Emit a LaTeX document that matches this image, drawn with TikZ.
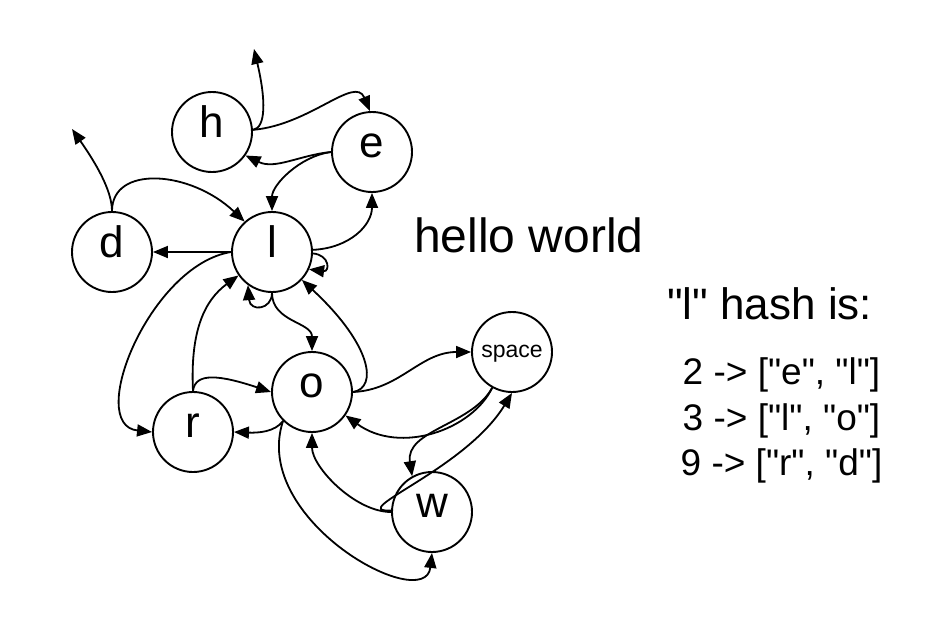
\documentclass[tikz,border=0pt]{standalone}
\usepackage{fontspec}
\setmainfont{Liberation Sans}[Ligatures=TeXOff]
\usetikzlibrary{arrows.meta}
\begin{document}
\begin{tikzpicture}[x=1pt,y=-1pt,
  state/.style={draw, circle, line width=1.9pt, minimum size=80pt, inner sep=0pt,
    font=\fontsize{44}{48}\selectfont, text height=30pt, text depth=20pt},
  edge/.style={line width=1.8pt, -{Triangle[length=15pt,width=12pt]}},
  label/.style={inner sep=0pt}]
\useasboundingbox[fill=white] (0,0) rectangle (935,621);

\node[state] (h) at (212,132) {h};
\node[state] (e) at (372,152) {e};
\node[state] (l) at (272,252) {l};
\node[state] (d) at (112,252) {d};
\node[state] (r) at (193,432) {r};
\node[state] (o) at (312,392) {o};
\node[state, font=\fontsize{23}{26}\selectfont] (space) at (512,352) {space};
\node[state] (w) at (432,512) {w};

\coordinate (hup) at (254,49);
\coordinate (dup) at (72,129);

\draw[edge] (h.3) .. controls (266,128) and (266,100) .. (hup);
\draw[edge] (h.3) .. controls (310,125) and (355,75) .. (e.93);
\draw[edge] (e.180) .. controls (300,155) and (275,170) .. (h.-35);
\draw[edge] (e.180) .. controls (300,156) and (272,185) .. (l.90);
\draw[edge] (l.3) .. controls (350,248) and (372,225) .. (e.-90);
\draw[edge] (l.-2) .. controls (330,255) and (330,272) .. (l.-25);
\draw[edge] (l.-90) .. controls (272,310) and (250,312) .. (l.-126);
\draw[edge] (d.90) .. controls (112,190) and (95,162) .. (dup);
\draw[edge] (d.90) .. controls (112,165) and (190,170) .. (l.132);
\draw[edge] (l.180) -- (d.0);
\draw[edge] (l.180) .. controls (150,265) and (85,425) .. (r.180);
\draw[edge] (r.90) .. controls (190,330) and (205,300) .. (l.-145);
\draw[edge] (r.90) .. controls (195,372) and (220,375) .. (o.180);
\draw[edge] (o.-135) .. controls (275,432) and (258,433) .. (r.0);
\draw[edge] (l.-90) .. controls (272,322) and (312,322) .. (o.90);
\draw[edge] (o.0) .. controls (378,388) and (372,345) .. (l.-43);
\draw[edge] (o.0) .. controls (400,390) and (420,352) .. (space.180);
\draw[edge] (space.-119) .. controls (472,430) and (400,455) .. (o.-35);
\draw[edge] (space.-119) .. controls (472,425) and (405,430) .. (w.119);
\draw[edge] (w.178) .. controls (345,512) and (465,470) .. (space.-90);
\draw[edge] (w.180) .. controls (355,512) and (312,467) .. (o.-90);
\draw[edge] (o.-135) .. controls (250,520) and (425,615) .. (w.-90);

\node[label, anchor=base west, font=\fontsize{48}{52}\selectfont] (title) at (414,252) {hello world};
\node[label, anchor=base west, font=\fontsize{44}{48}\selectfont] (hash) at (667,319) {"l" hash is:};
\node[label, anchor=base, font=\fontsize{37}{40}\selectfont] (line2) at (781.5,384) {2 -> ["e", "l"]};
\node[label, anchor=base, font=\fontsize{37}{40}\selectfont] (line3) at (781.5,430) {3 -> ["l", "o"]};
\node[label, anchor=base, font=\fontsize{37}{40}\selectfont] (line9) at (781.5,475) {9 -> ["r", "d"]};
\end{tikzpicture}
\end{document}
